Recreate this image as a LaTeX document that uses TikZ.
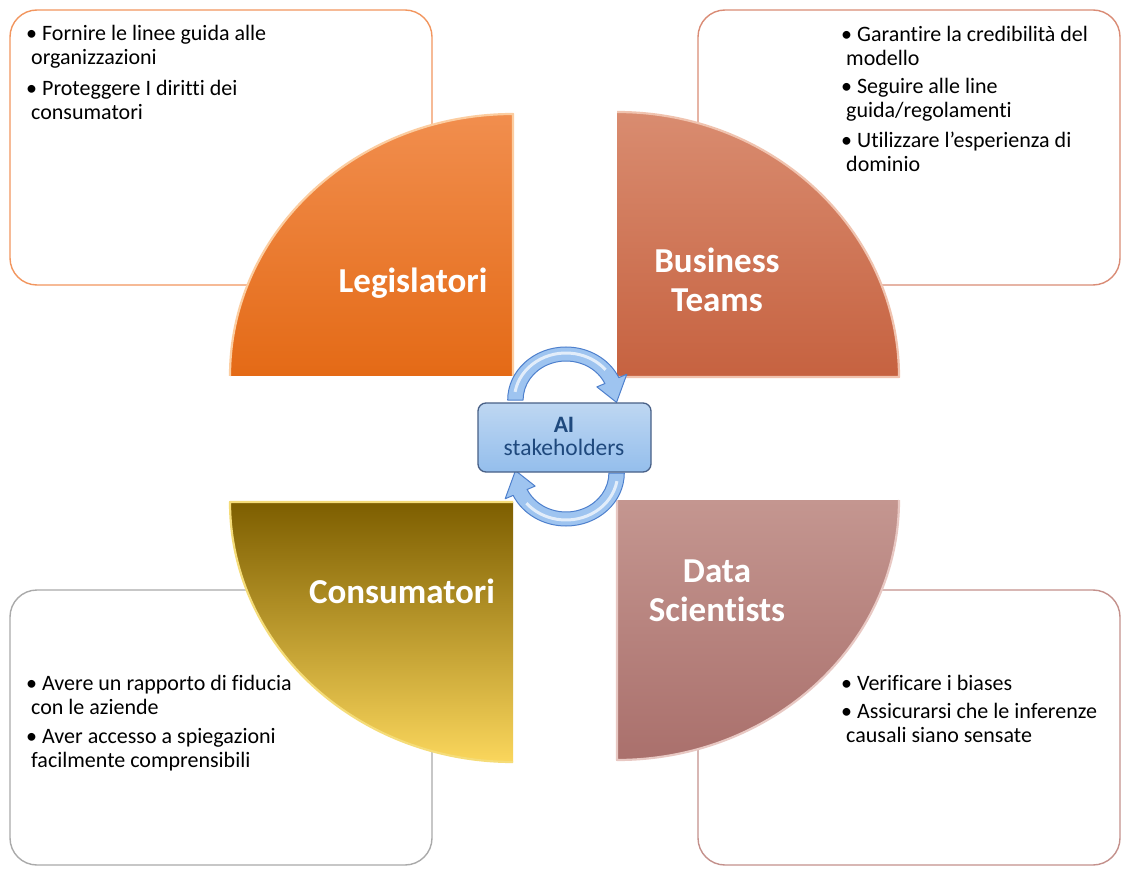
\documentclass[tikz,border=0pt]{standalone}
\usepackage{fontspec}
\setmainfont{Carlito}[Ligatures={NoCommon}]
\definecolor{tlborder}{RGB}{242,150,95}
\definecolor{trborder}{RGB}{218,140,118}
\definecolor{blborder}{RGB}{170,170,170}
\definecolor{brborder}{RGB}{196,145,140}
\definecolor{legtop}{RGB}{241,142,78}
\definecolor{legbot}{RGB}{228,106,22}
\definecolor{legrim}{RGB}{252,205,160}
\definecolor{bustop}{RGB}{217,140,112}
\definecolor{busbot}{RGB}{198,98,64}
\definecolor{busrim}{RGB}{240,195,175}
\definecolor{contop}{RGB}{125,94,0}
\definecolor{conmid}{RGB}{190,142,0}
\definecolor{conbot}{RGB}{250,214,92}
\definecolor{conrim}{RGB}{245,220,120}
\definecolor{dattop}{RGB}{196,150,144}
\definecolor{datbot}{RGB}{170,112,108}
\definecolor{datrim}{RGB}{232,200,195}
\definecolor{aitop}{RGB}{190,215,242}
\definecolor{aibot}{RGB}{148,190,236}
\definecolor{aiborder}{RGB}{72,96,135}
\definecolor{aitext}{RGB}{31,73,125}
\definecolor{arrowfill}{RGB}{158,196,240}
\definecolor{arrowline}{RGB}{78,128,205}
\begin{document}
\begin{tikzpicture}[x=1pt,y=1pt,
  infobox/.style={draw, fill=white, rounded corners=27pt, line width=1.4pt, minimum width=422pt, minimum height=275pt, inner sep=0pt},
  wedgelabel/.style={text=white, font=\bfseries\fontsize{35}{38.5}\selectfont, anchor=base, inner sep=0pt},
  itemtext/.style={font=\fontsize{22}{24}\selectfont, align=left, text width=300pt, anchor=base west, inner sep=0pt,
    execute at begin node={\spaceskip=0pt\relax\xspaceskip=0pt\relax}},
  aitextstyle/.style={text=aitext, font=\fontsize{23.5}{24}\selectfont, anchor=base, inner sep=0pt},
  rimline/.style={line width=2.2pt, line join=round},
  cyclearrow/.style={fill=arrowfill, draw=arrowline, line width=1pt, line join=round}
]
\useasboundingbox (0,0) rectangle (1133,-877);
\fill[white] (0,0) rectangle (1133,-877);

% info boxes
\node[infobox, draw=tlborder] (boxtl) at (221,-147.5) {};
\node[infobox, draw=trborder] (boxtr) at (909,-147.5) {};
\node[infobox, draw=blborder] (boxbl) at (221,-727.5) {};
\node[infobox, draw=brborder] (boxbr) at (909,-727.5) {};

% box texts
\node[itemtext] (tl1) at (26,-41) {\textbullet\ Fornire le linee guida alle\\\hspace*{5pt}organizzazioni};
\node[itemtext] (tl2) at (26,-96) {\textbullet\ Proteggere I diritti dei\\\hspace*{5pt}consumatori};

\node[itemtext] (tr1) at (841,-42) {\textbullet\ Garantire la credibilità del\\\hspace*{5pt}modello};
\node[itemtext] (tr2) at (841,-94) {\textbullet\ Seguire alle line\\\hspace*{5pt}guida/regolamenti};
\node[itemtext] (tr3) at (841,-148) {\textbullet\ Utilizzare l’esperienza di\\\hspace*{5pt}dominio};

\node[itemtext] (bl1) at (26,-690) {\textbullet\ Avere un rapporto di fiducia\\\hspace*{5pt}con le aziende};
\node[itemtext] (bl2) at (26,-743) {\textbullet\ Aver accesso a spiegazioni\\\hspace*{5pt}facilmente comprensibili};

\node[itemtext] (br1) at (841,-690) {\textbullet\ Verificare i biases};
\node[itemtext] (br2) at (841,-718) {\textbullet\ Assicurarsi che le inferenze\\\hspace*{5pt}causali siano sensate};

% wedges
\shade[top color=legtop, bottom color=legbot] (513,-376) -- (230,-376) arc[start angle=180, end angle=90, x radius=283, y radius=262] -- cycle;
\draw[rimline, draw=legrim] (230,-376) arc[start angle=180, end angle=90, x radius=283, y radius=262] -- (513,-376);

\shade[top color=bustop, bottom color=busbot] (617,-377) -- (617,-112) arc[start angle=90, end angle=0, x radius=282, y radius=265] -- cycle;
\draw[rimline, draw=busrim] (617,-112) arc[start angle=90, end angle=0, x radius=282, y radius=265] -- (617,-377);

\shade[top color=contop, middle color=conmid, bottom color=conbot] (513,-502) -- (230,-502) arc[start angle=180, end angle=270, x radius=283, y radius=260] -- cycle;
\draw[rimline, draw=conrim] (513,-502) -- (230,-502) arc[start angle=180, end angle=270, x radius=283, y radius=260];

\shade[top color=dattop, bottom color=datbot] (617,-500) -- (899,-500) arc[start angle=0, end angle=-90, x radius=282, y radius=260] -- cycle;
\draw[rimline, draw=datrim] (899,-500) arc[start angle=0, end angle=-90, x radius=282, y radius=260] -- (617,-500);

% wedge labels
\node[wedgelabel] (leg) at (413,-293) {Legislatori};
\node[wedgelabel] (bus1) at (717,-273) {Business};
\node[wedgelabel] (bus2) at (717,-312) {Teams};
\node[wedgelabel] (dat1) at (717,-582) {Data};
\node[wedgelabel] (dat2) at (717,-621) {Scientists};
\node[wedgelabel] (con) at (402,-603) {Consumatori};

% circular arrows
\begin{scope}[shift={(566,-400)}, xscale=1.1]
  \path[cyclearrow] (180:53) arc[start angle=180, end angle=25, radius=53] -- (25:61) -- (-3:46) -- (25:31) -- (25:39) arc[start angle=25, end angle=180, radius=39] -- cycle;
  \draw[white, opacity=0.7, line width=3pt] (170:47) arc[start angle=170, end angle=40, radius=47];
\end{scope}
\begin{scope}[shift={(566,-473)}, xscale=1.1, rotate=180]
  \path[cyclearrow] (180:53) arc[start angle=180, end angle=25, radius=53] -- (25:61) -- (-3:46) -- (25:31) -- (25:39) arc[start angle=25, end angle=180, radius=39] -- cycle;
  \draw[white, opacity=0.7, line width=3pt] (170:47) arc[start angle=170, end angle=40, radius=47];
\end{scope}

% center box
\node[draw=aiborder, line width=1.3pt, rounded corners=8pt, top color=aitop, bottom color=aibot, minimum width=173pt, minimum height=69pt, inner sep=0pt] (ai) at (564.5,-437.5) {};
\node[aitextstyle] (ai1) at (564,-432) {\bfseries AI};
\node[aitextstyle] (ai2) at (564,-455) {stakeholders};
\end{tikzpicture}
\end{document}
